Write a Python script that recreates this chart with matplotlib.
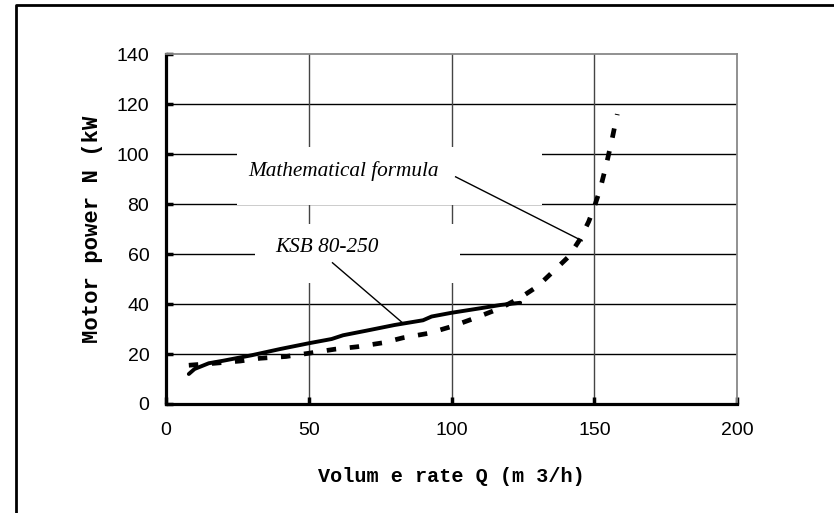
import matplotlib
matplotlib.use("Agg")
import matplotlib.pyplot as plt
from matplotlib.lines import Line2D
from matplotlib.patches import Rectangle

# KSB 80-250 catalogue curve
q_ksb = [8, 10, 15, 20, 30, 40, 50, 58, 62, 70, 80, 90, 93, 100, 110, 117, 124]
n_ksb = [12, 14, 16.3, 17.3, 19.5, 22, 24.3, 26, 27.5, 29.3, 31.6, 33.5, 35, 36.5, 38.3, 39.6, 40.5]

# mathematical formula curve
q_math = [8, 17, 26, 33, 42, 50, 59, 67, 76, 83, 92, 100, 108, 117, 124, 130, 136,
          141, 145, 148, 150, 152, 154, 156, 158]
n_math = [15.5, 16.3, 17.2, 18.3, 19, 20.3, 21.9, 22.9, 24.5, 26.5, 28.3, 31, 34.3,
          38.3, 42.5, 47, 53.5, 59, 66, 73, 79, 86, 95, 105, 116]

x_ticks = [0, 50, 100, 150, 200]
y_ticks = [0, 20, 40, 60, 80, 100, 120, 140]

fig = plt.figure(figsize=(8.34, 5.13), dpi=100)
ax = fig.add_axes([0.199, 0.2125, 0.685, 0.682])

ax.set_xlim(0, 200)
ax.set_ylim(0, 140)
ax.set_xticks(x_ticks)
ax.set_yticks(y_ticks)

# grid
for y in y_ticks[1:-1]:
    ax.axhline(y, color="black", lw=1.0, zorder=1)
for x in x_ticks[1:-1]:
    ax.axvline(x, color="#444444", lw=1.0, zorder=1)

# white boxes behind the labels (cut the grid)
ax.add_patch(Rectangle((24.8, 79.6), 106.7, 23.2, facecolor="white", edgecolor="none", zorder=2))
ax.add_patch(Rectangle((31.3, 48.4), 71.5, 23.6, facecolor="white", edgecolor="none", zorder=2))

ax.plot(q_ksb, n_ksb, color="black", lw=2.8, solid_capstyle="round", zorder=4)
ax.plot(q_math, n_math, color="black", lw=3.4, linestyle=(0, (2.0, 2.9)), zorder=4)

ax.text(62.0, 93.3, "Mathematical formula", family="Liberation Serif", style="italic",
        fontsize=15.3, ha="center", va="center", zorder=5)
ax.plot([101.4, 145.7], [90.9, 65.3], color="black", lw=1.0, zorder=5)
ax.text(56.3, 62.7, "KSB 80-250", family="Liberation Serif", style="italic",
        fontsize=15.3, ha="center", va="center", zorder=5)
ax.plot([58.3, 82.8], [56.5, 32.5], color="black", lw=1.0, zorder=5)

for s in ["left", "bottom"]:
    ax.spines[s].set_linewidth(2.3)
    ax.spines[s].set_color("black")
for s in ["top", "right"]:
    ax.spines[s].set_linewidth(1.3)
    ax.spines[s].set_color("#888888")

ax.tick_params(direction="in", length=5, width=2.5, colors="black", labelsize=14, pad=13)
ax.tick_params(axis="y", pad=12)
for lab in ax.get_xticklabels() + ax.get_yticklabels():
    lab.set_family("Liberation Sans")

ax.set_xlabel("Volum e rate Q (m 3/h)", family="Liberation Mono", weight="bold",
              fontsize=14.5, labelpad=20)
ax.set_ylabel("Motor power N (kW", family="Liberation Mono", weight="bold",
              fontsize=16, labelpad=10)

# outer frame (top and left edge)
fig.add_artist(Line2D([16 / 834, 16 / 834, 1], [0, 1 - 5 / 513, 1 - 5 / 513],
                      color="black", lw=2.0, transform=fig.transFigure))

fig.savefig("out.png", dpi=100)
